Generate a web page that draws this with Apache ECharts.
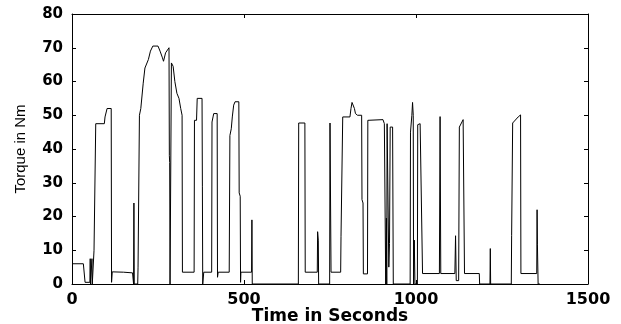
<!DOCTYPE html>
<html>
<head>
<meta charset="utf-8">
<script src="https://cdn.jsdelivr.net/npm/echarts@6/dist/echarts.min.js"></script>
<style>
  html, body { margin: 0; padding: 0; background: #fff; }
  #chart { width: 621px; height: 324px; }
</style>
</head>
<body>
<div id="chart"></div>
<script>
// time (s) and torque (Nm)
var timeSec = [
  0, 33, 35, 37, 38, 52, 53, 54, 57, 58, 59, 63, 64, 68, 69, 94, 96, 100, 102, 114,
  115, 117, 150, 176, 178, 179, 180, 181, 191, 192, 195, 196, 200, 207, 212, 216, 222, 228, 235, 250,
  256, 263, 266, 272, 282, 283, 284, 285, 288, 289, 294, 299, 305, 311, 316, 320, 321, 355, 356, 362,
  364, 378, 379, 380, 382, 383, 406, 407, 410, 412, 422, 423, 425, 457, 459, 463, 466, 470, 474, 485,
  486, 489, 490, 491, 522, 523, 524, 658, 659, 677, 678, 713, 714, 716, 717, 749, 750, 752, 753, 781,
  782, 786, 787, 808, 811, 814, 818, 821, 824, 830, 842, 843, 846, 847, 859, 860, 864, 904, 908, 911,
  912, 914, 915, 916, 920, 921, 923, 925, 932, 934, 983, 984, 988, 990, 992, 993, 995, 997, 1004, 1005,
  1012, 1017, 1019, 1068, 1070, 1072, 1113, 1115, 1117, 1124, 1126, 1137, 1140, 1141, 1184, 1185, 1215, 1216, 1217, 1277,
  1278, 1280, 1281, 1297, 1304, 1305, 1351, 1352, 1353, 1355, 1360
];
var torqueNm = [
  6, 6, 5.5, 5.5, 0.5, 0.5, 7.5, 0, 0, 7.5, 0, 0, 10, 10, 47.5, 47.5, 49.5, 49.5, 52, 52,
  0.5, 3.6, 3.5, 3.3, 3.3, 0, 24, 0, 0, 5, 5, 50, 52, 59.5, 64, 64.5, 66.5, 69, 70.5, 70.5,
  69, 67, 66, 68.5, 70, 38, 36, 0, 0, 65.5, 64.5, 60, 56.5, 55, 52, 50, 3.5, 3.5, 48.5, 48.5,
  55, 55, 29, 0, 0, 3.5, 3.5, 48, 49.5, 50.5, 50.5, 2, 3.5, 3.5, 44, 46, 49.5, 53, 54, 54,
  27, 26, 0.5, 3.5, 3.5, 19, 0, 0, 47.7, 47.7, 3.5, 3.5, 15.5, 13, 0, 0, 47.7, 47.7, 3.5, 3.5,
  14, 14, 49.5, 49.5, 52, 53.8, 53.8, 52, 50.5, 50, 50, 25, 24, 3, 3, 48.5, 48.7, 48.7, 47.5, 47,
  0, 19.5, 0, 47.5, 47.5, 5, 12, 46.5, 46.5, 0, 0, 45, 50, 53.8, 50, 0, 13, 0, 0, 47.2,
  47.5, 48, 3.1, 3.1, 49.6, 3.1, 3.1, 14.3, 1, 1, 46.5, 48.7, 48.7, 3.1, 3.1, 0, 0, 10.5, 0, 0,
  14.3, 14.3, 47.7, 49.5, 50.1, 3.1, 3.1, 22, 11.6, 0, 0
];
var xTicks = [0, 500, 1000, 1500];
var yTicks = [0, 10, 20, 30, 40, 50, 60, 70, 80];

var pts = [];
for (var i = 0; i < timeSec.length; i++) {
  pts.push([timeSec[i], torqueNm[i]]);
}

var chart = echarts.init(document.getElementById('chart'), null, { renderer: 'canvas' });

var tickFont = { color: '#000', fontFamily: 'DejaVu Sans', fontWeight: 'bold' };
var frameLine = { show: true, onZero: false, lineStyle: { color: '#000', width: 1 } };
var inTick = { show: true, inside: true, length: 4, lineStyle: { color: '#000' } };
var plain = function (v) { return String(v); };

var option = {
  animation: false,
  backgroundColor: '#fff',
  grid: { left: 72, right: 33, top: 14, bottom: 40, containLabel: false, outerBoundsMode: 'none' },
  xAxis: [
    {
      type: 'value',
      min: xTicks[0],
      max: xTicks[xTicks.length - 1],
      interval: 500,
      position: 'bottom',
      name: 'Time in Seconds',
      nameLocation: 'middle',
      nameGap: 24,
      nameMoveOverlap: false,
      nameTextStyle: { color: '#000', fontFamily: 'DejaVu Sans', fontWeight: 'bold', fontSize: 17 },
      axisLine: frameLine,
      axisTick: inTick,
      axisLabel: Object.assign({ fontSize: 16, margin: 8, formatter: plain }, tickFont),
      splitLine: { show: false }
    },
    {
      type: 'value',
      min: xTicks[0],
      max: xTicks[xTicks.length - 1],
      interval: 500,
      position: 'top',
      axisLine: frameLine,
      axisTick: inTick,
      axisLabel: { show: false },
      splitLine: { show: false }
    }
  ],
  yAxis: [
    {
      type: 'value',
      min: yTicks[0],
      max: yTicks[yTicks.length - 1],
      interval: 10,
      position: 'left',
      name: 'Torque in Nm',
      nameLocation: 'middle',
      nameGap: 44,
      nameMoveOverlap: false,
      nameTextStyle: { color: '#000', fontFamily: 'Liberation Sans', fontSize: 15 },
      axisLine: frameLine,
      axisTick: inTick,
      axisLabel: Object.assign({ fontSize: 15, margin: 9, formatter: plain }, tickFont),
      splitLine: { show: false }
    },
    {
      type: 'value',
      min: yTicks[0],
      max: yTicks[yTicks.length - 1],
      interval: 10,
      position: 'right',
      axisLine: frameLine,
      axisTick: inTick,
      axisLabel: { show: false },
      splitLine: { show: false }
    }
  ],
  series: [
    {
      type: 'line',
      xAxisIndex: 0,
      yAxisIndex: 0,
      data: pts,
      showSymbol: false,
      symbol: 'none',
      lineStyle: { color: '#000', width: 1 },
      z: 3
    }
  ]
};

chart.setOption(option);
</script>
</body>
</html>
